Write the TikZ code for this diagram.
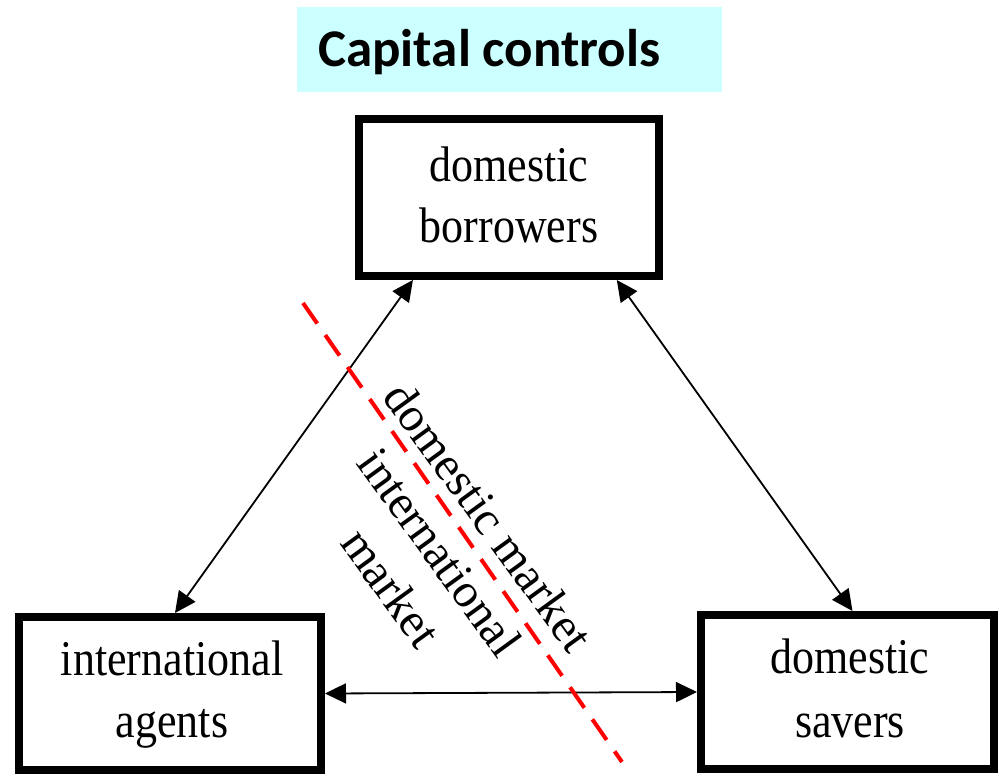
\documentclass[tikz,border=0pt]{standalone}
\usepackage{fontspec}
\setmainfont{Liberation Serif}
\newfontfamily\boxfont[FakeStretch=0.88]{Liberation Serif}
\newfontfamily\titlefont{Carlito}
\usetikzlibrary{arrows.meta,calc}
\definecolor{titlecyan}{RGB}{204,255,255}
\definecolor{cutred}{RGB}{255,0,0}
\tikzset{
  agentbox/.style={draw=black, line width=8pt, rectangle, inner sep=0pt},
  boxtext/.style={anchor=base, inner sep=0pt, font=\boxfont\fontsize{50}{60}\selectfont},
  link/.style={line width=1.8pt, {Triangle[length=21pt,width=20pt]}-{Triangle[length=21pt,width=20pt]}},
  cutline/.style={draw=cutred, line width=4pt, dash pattern=on 25pt off 14pt},
  markettext/.style={align=center, rotate=-54, inner sep=0pt, font=\fontsize{48}{60}\selectfont}
}
\begin{document}
\begin{tikzpicture}[x=1pt,y=-1pt]
\useasboundingbox (0,0) rectangle (998,775);
% title
\node[fill=titlecyan, minimum width=425pt, minimum height=85pt, inner sep=0pt] (titlebox) at (509.5,49.5) {};
\node[anchor=base west, inner sep=0pt, font=\titlefont\bfseries\fontsize{53}{60}\selectfont] (title) at (318,67) {Capital controls};
% boxes
\node[agentbox, minimum width=300pt, minimum height=157pt] (top) at (509,197.5) {};
\node[agentbox, minimum width=302pt, minimum height=153pt] (left) at (170,693.5) {};
\node[agentbox, minimum width=293pt, minimum height=154pt] (right) at (847.5,692) {};
% box texts
\node[boxtext] (t1) at (509,182) {domestic};
\node[boxtext] (t2) at (509,243) {borrowers};
\node[boxtext] (l1) at (172,675) {international};
\node[boxtext] (l2) at (172,737) {agents};
\node[boxtext] (r1) at (850,673) {domestic};
\node[boxtext] (r2) at (850,737) {savers};
% connectors
\coordinate (tl) at ($(top.south west)!0.188!(top.south east)$);
\coordinate (tr) at ($(top.south west)!0.85!(top.south east)$);
\draw[link] (tl) -- ($(left.north)+(5,0)$);
\draw[link] (tr) -- ($(right.north)+(5,0)$);
\draw[link] (left.east) -- (right.west);
% cut line
\coordinate (cutA) at (303,303);
\coordinate (cutB) at (622,762);
\draw[cutline] (cutA) -- (cutB);
% market labels
\node[markettext] (market) at (440,552) {domestic market\\international\\market};
\end{tikzpicture}
\end{document}
